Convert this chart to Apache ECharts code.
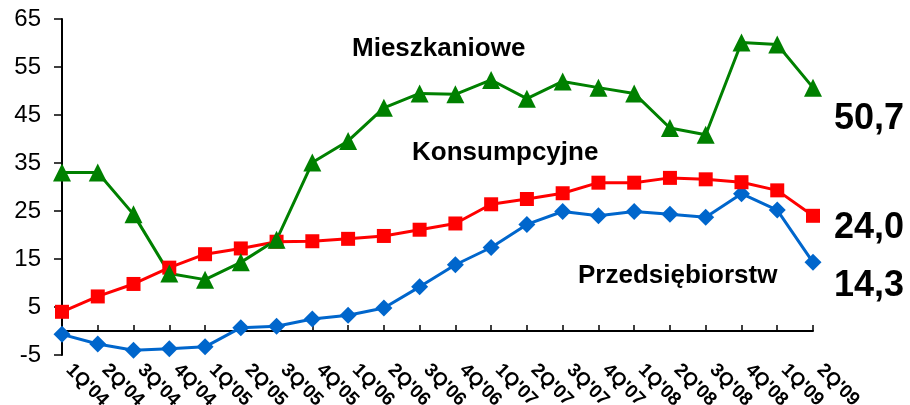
<!DOCTYPE html>
<html>
<head>
<meta charset="utf-8">
<script src="https://cdn.jsdelivr.net/npm/echarts@6/dist/echarts.min.js"></script>
<style>
  html, body { margin: 0; padding: 0; background: #fff; }
  #chart { width: 910px; height: 405px; }
</style>
</head>
<body>
<div id="chart"></div>
<script>
const quarters = [
  "1Q'04", "2Q'04", "3Q'04", "4Q'04", "1Q'05", "2Q'05", "3Q'05", "4Q'05",
  "1Q'06", "2Q'06", "3Q'06", "4Q'06", "1Q'07", "2Q'07", "3Q'07", "4Q'07",
  "1Q'08", "2Q'08", "3Q'08", "4Q'08", "1Q'09", "2Q'09"
];

const mieszkaniowe = [
  33.0, 33.0, 24.3, 12.0, 10.7, 14.3, 19.0, 35.1, 39.6, 46.5, 49.5,
  49.3, 52.3, 48.4, 52.0, 50.7, 49.5, 42.3, 40.9, 60.1, 59.7, 50.7
];

const konsumpcyjne = [
  4.0, 7.2, 9.8, 13.2, 16.0, 17.2, 18.6, 18.7, 19.2, 19.8, 21.1,
  22.4, 26.4, 27.5, 28.7, 30.9, 30.9, 31.9, 31.6, 31.0, 29.3, 24.0
];

const przedsiebiorstwa = [
  -0.7, -2.7, -4.0, -3.7, -3.3, 0.7, 1.0, 2.5, 3.3, 4.8, 9.2,
  13.8, 17.4, 22.2, 24.9, 24.0, 24.9, 24.3, 23.7, 28.6, 25.2, 14.3
];

const yTicks = { min: -5, max: 65, step: 10 };

const chart = echarts.init(document.getElementById('chart'), null, { renderer: 'canvas' });

const font = 'Arial, "Liberation Sans", Helvetica, sans-serif';

function endLabel(dy) {
  return {
    show: true,
    formatter: (p) => p.value.toFixed(1).replace('.', ','),
    color: '#000',
    fontFamily: font,
    fontWeight: 'bold',
    fontSize: 36,
    distance: 21,
    offset: [0, dy]
  };
}

function lineSeries(name, data, color, symbol, size, dy) {
  return {
    name: name,
    type: 'line',
    data: data,
    symbol: symbol,
    symbolSize: size,
    showAllSymbol: true,
    itemStyle: { color: color },
    lineStyle: { color: color, width: 3 },
    endLabel: endLabel(dy),
    animation: false
  };
}

chart.setOption({
  backgroundColor: '#fff',
  animation: false,
  grid: { left: 62, right: 97, top: 19, bottom: 50, containLabel: false, outerBoundsMode: 'none' },
  xAxis: {
    type: 'category',
    data: quarters,
    boundaryGap: false,
    axisLine: { onZero: true, lineStyle: { color: '#000', width: 2 } },
    axisTick: { show: true, inside: true, length: 6, lineStyle: { color: '#000', width: 1.5 } },
    axisLabel: {
      interval: 0,
      rotate: -45,
      margin: 5,
      padding: [0, 0, 0, 10],
      color: '#000',
      fontFamily: font,
      fontWeight: 'bold',
      fontSize: 19
    },
    splitLine: { show: false }
  },
  yAxis: {
    type: 'value',
    min: yTicks.min,
    max: yTicks.max,
    interval: yTicks.step,
    axisLine: { show: true, lineStyle: { color: '#000', width: 2 } },
    axisTick: { show: true, length: 8, lineStyle: { color: '#000', width: 1.5 } },
    axisLabel: { color: '#000', fontFamily: font, fontSize: 24, margin: 21 },
    splitLine: { show: false }
  },
  graphic: [
    { type: 'text', left: 352, top: 36, style: { text: 'Mieszkaniowe', font: 'bold 26px ' + font, fill: '#000' } },
    { type: 'text', left: 412, top: 140, style: { text: 'Konsumpcyjne', font: 'bold 26px ' + font, fill: '#000' } },
    { type: 'text', left: 578, top: 263, style: { text: 'Przedsiębiorstw', font: 'bold 26px ' + font, fill: '#000' } }
  ],
  series: [
    lineSeries('Przedsiębiorstw', przedsiebiorstwa, '#0066CC', 'diamond', 17, 24),
    lineSeries('Konsumpcyjne', konsumpcyjne, '#FF0000', 'rect', 14, 12),
    lineSeries('Mieszkaniowe', mieszkaniowe, '#008000', 'triangle', 18, 31)
  ]
});
</script>
</body>
</html>
